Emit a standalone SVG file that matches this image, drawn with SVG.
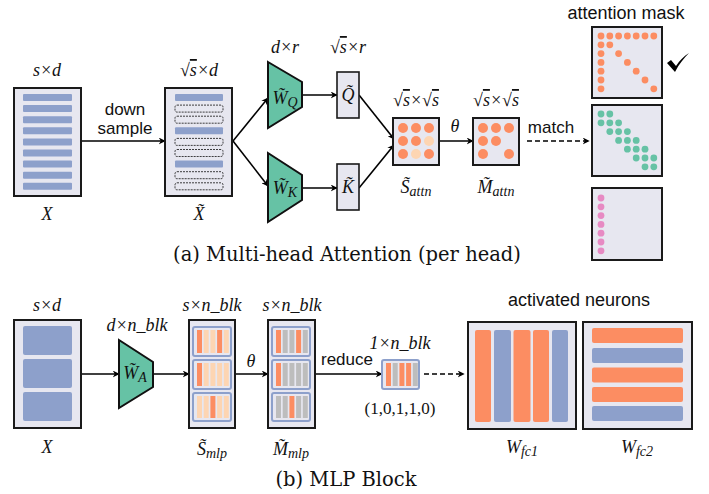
<svg xmlns="http://www.w3.org/2000/svg" width="709" height="494" viewBox="0 0 709 494">
<defs>
<marker id="ah" viewBox="0 0 10 10" refX="9" refY="5" markerWidth="7" markerHeight="7" orient="auto" markerUnits="userSpaceOnUse">
<path d="M0,0 L10,5 L0,10 L3,5 z" fill="#000"/>
</marker>
<style>
.box{fill:#e7e7f0;stroke:#1a1a1a;stroke-width:2}
.bar{fill:#8da0cb}
.dbar{fill:none;stroke:#111;stroke-width:0.8;stroke-dasharray:2 1}
.trap{fill:#66c2a5;stroke:#111;stroke-width:2}
.ln{stroke:#000;stroke-width:1.6;fill:none;marker-end:url(#ah)}
.dash{stroke:#000;stroke-width:1.6;fill:none;stroke-dasharray:5 3;marker-end:url(#ah)}
.m{font-family:"Liberation Serif","DejaVu Serif",serif;font-style:italic;font-size:18px;text-anchor:middle;fill:#111}
.sub{font-size:14px}
.s{font-family:"Liberation Sans",Arial,sans-serif;font-size:16px;text-anchor:middle;fill:#111}
.cap{font-family:"DejaVu Serif","Liberation Serif",serif;font-size:19.5px;text-anchor:middle;fill:#111}
.o{fill:#fc8d62}.lo{fill:#fdd5b2}.g{fill:#66c2a5}.p{fill:#e78ac3}.gr{fill:#bdbdbd}
.blk{fill:#e7e7f0;stroke:#8da0cb;stroke-width:2}
</style>
</defs>

<!-- connectors -->
<g id="connectors">
<line class="ln" x1="81" y1="141" x2="165" y2="141"/>
<line class="ln" x1="233" y1="141" x2="268" y2="98"/>
<line class="ln" x1="233" y1="141" x2="268" y2="186"/>
<line class="ln" x1="302" y1="95" x2="337" y2="95"/>
<line class="ln" x1="302" y1="188" x2="337" y2="188"/>
<line class="ln" x1="359" y1="95" x2="394" y2="139"/>
<line class="ln" x1="359" y1="188" x2="394" y2="145"/>
<line class="ln" x1="439" y1="141" x2="473" y2="141"/>
<line class="dash" x1="527" y1="141" x2="589" y2="141"/>
<line class="ln" x1="81" y1="374" x2="119" y2="374"/>
<line class="ln" x1="153" y1="374" x2="189" y2="374"/>
<line class="ln" x1="235" y1="374" x2="268" y2="374"/>
<line class="ln" x1="315" y1="374" x2="382" y2="374"/>
<line class="dash" x1="424" y1="374" x2="464" y2="374"/>
</g>

<!-- (a) -->
<g id="X_a">
<text class="m" x="47" y="76">s×d</text>
<rect class="box" x="14" y="88" width="67" height="108"/>
<g class="bar">
<rect x="23" y="94" width="49" height="7" rx="1"/>
<rect x="23" y="105.1" width="49" height="7" rx="1"/>
<rect x="23" y="116.2" width="49" height="7" rx="1"/>
<rect x="23" y="127.3" width="49" height="7" rx="1"/>
<rect x="23" y="138.4" width="49" height="7" rx="1"/>
<rect x="23" y="149.5" width="49" height="7" rx="1"/>
<rect x="23" y="160.6" width="49" height="7" rx="1"/>
<rect x="23" y="171.7" width="49" height="7" rx="1"/>
<rect x="23" y="182.8" width="49" height="7" rx="1"/>
</g>
<text class="m" x="47" y="220">X</text>
</g>

<g id="downsample_label">
<text class="s" x="125" y="115" style="font-size:17px">down</text>
<text class="s" x="125" y="134" style="font-size:17px">sample</text>
</g>

<g id="Xt">
<text class="m" x="199" y="76">√<tspan text-decoration="overline">s</tspan>×d</text>
<rect class="box" x="165" y="88" width="67" height="108"/>
<rect class="bar" x="175" y="94" width="48" height="7" rx="1"/>
<rect class="dbar" x="175" y="105.1" width="48" height="7" rx="2"/>
<rect class="dbar" x="175" y="116.2" width="48" height="7" rx="2"/>
<rect class="bar" x="175" y="127.3" width="48" height="7" rx="1"/>
<rect class="dbar" x="175" y="138.4" width="48" height="7" rx="2"/>
<rect class="dbar" x="175" y="149.5" width="48" height="7" rx="2"/>
<rect class="bar" x="175" y="160.6" width="48" height="7" rx="1"/>
<rect class="dbar" x="175" y="171.7" width="48" height="7" rx="2"/>
<rect class="dbar" x="175" y="182.8" width="48" height="7" rx="2"/>
<text class="m" x="199" y="220">X̃</text>
</g>

<g id="WQ">
<text class="m" x="285" y="53">d×r</text>
<polygon class="trap" points="268,62 302,82 302,107 268,128"/>
<text class="m" x="285" y="104">W̃<tspan class="sub" dy="3">Q</tspan></text>
</g>
<g id="WK">
<polygon class="trap" points="268,153 302,175 302,200 268,222"/>
<text class="m" x="285" y="194">W̃<tspan class="sub" dy="3">K</tspan></text>
</g>

<g id="Q">
<text class="m" x="348" y="53">√<tspan text-decoration="overline">s</tspan>×r</text>
<rect class="box" x="337" y="72" width="22" height="46" style="stroke-width:1.6"/>
<text class="m" x="348" y="101">Q̃</text>
</g>
<g id="K">
<rect class="box" x="337" y="164" width="22" height="46" style="stroke-width:1.6"/>
<text class="m" x="348" y="193">K̃</text>
</g>

<g id="S_attn">
<text class="m" x="416" y="106">√<tspan text-decoration="overline">s</tspan>×√<tspan text-decoration="overline">s</tspan></text>
<rect class="box" x="393" y="118" width="46" height="47"/>
<circle class="o" cx="403" cy="128" r="5"/><circle class="o" cx="416" cy="128" r="5"/><circle class="o" cx="429" cy="128" r="5"/>
<circle class="o" cx="403" cy="141" r="5"/><circle class="o" cx="416" cy="141" r="5"/><circle class="lo" cx="429" cy="141" r="5"/>
<circle class="o" cx="403" cy="154" r="5"/><circle class="lo" cx="416" cy="154" r="5"/><circle class="o" cx="429" cy="154" r="5"/>
<text class="m" x="416" y="193">S̃<tspan class="sub" dy="3">attn</tspan></text>
</g>

<text class="m" x="455" y="132">θ</text>

<g id="M_attn">
<text class="m" x="496" y="106">√<tspan text-decoration="overline">s</tspan>×√<tspan text-decoration="overline">s</tspan></text>
<rect class="box" x="473" y="118" width="46" height="47"/>
<circle class="o" cx="483" cy="128" r="5"/><circle class="o" cx="496" cy="128" r="5"/><circle class="o" cx="509" cy="128" r="5"/>
<circle class="o" cx="483" cy="141" r="5"/><circle class="o" cx="496" cy="141" r="5"/>
<circle class="o" cx="483" cy="154" r="5"/><circle class="o" cx="509" cy="154" r="5"/>
<text class="m" x="496" y="193">M̃<tspan class="sub" dy="3">attn</tspan></text>
</g>

<text class="s" x="551" y="133" style="font-size:17px">match</text>

<g id="masks">
<text class="s" x="626" y="19" style="font-size:18px">attention mask</text>
<g id="mask1">
<rect class="box" x="592" y="27" width="70" height="71"/>
<g class="o">
<circle cx="601" cy="36" r="3.4"/><circle cx="609.8" cy="36" r="3.4"/><circle cx="618.6" cy="36" r="3.4"/><circle cx="627.4" cy="36" r="3.4"/><circle cx="636.2" cy="36" r="3.4"/><circle cx="645" cy="36" r="3.4"/><circle cx="653.8" cy="36" r="3.4"/>
<circle cx="601" cy="44.8" r="3.4"/><circle cx="609.8" cy="44.8" r="3.4"/>
<circle cx="601" cy="53.6" r="3.4"/><circle cx="618.6" cy="53.6" r="3.4"/>
<circle cx="601" cy="62.4" r="3.4"/><circle cx="627.4" cy="62.4" r="3.4"/>
<circle cx="601" cy="71.2" r="3.4"/><circle cx="636.2" cy="71.2" r="3.4"/>
<circle cx="601" cy="80" r="3.4"/><circle cx="645" cy="80" r="3.4"/>
<circle cx="601" cy="88.8" r="3.4"/><circle cx="653.8" cy="88.8" r="3.4"/>
</g>
<path d="M667,63 L671,60 L676,66 C680,60 684,56 689,53 C684,58 679,64 675,72 Z" fill="#000"/>
</g>
<g id="mask2">
<rect class="box" x="592" y="105" width="70" height="71"/>
<g class="g">
<circle cx="601" cy="114" r="3.4"/><circle cx="609.8" cy="114" r="3.4"/>
<circle cx="601" cy="122.8" r="3.4"/><circle cx="609.8" cy="122.8" r="3.4"/><circle cx="618.6" cy="122.8" r="3.4"/>
<circle cx="609.8" cy="131.6" r="3.4"/><circle cx="618.6" cy="131.6" r="3.4"/><circle cx="627.4" cy="131.6" r="3.4"/>
<circle cx="618.6" cy="140.4" r="3.4"/><circle cx="627.4" cy="140.4" r="3.4"/><circle cx="636.2" cy="140.4" r="3.4"/>
<circle cx="627.4" cy="149.2" r="3.4"/><circle cx="636.2" cy="149.2" r="3.4"/><circle cx="645" cy="149.2" r="3.4"/>
<circle cx="636.2" cy="158" r="3.4"/><circle cx="645" cy="158" r="3.4"/><circle cx="653.8" cy="158" r="3.4"/>
<circle cx="645" cy="166.8" r="3.4"/><circle cx="653.8" cy="166.8" r="3.4"/>
</g>
</g>
<g id="mask3">
<rect class="box" x="592" y="188" width="70" height="72"/>
<g class="p">
<circle cx="601" cy="198" r="3.4"/><circle cx="601" cy="206.8" r="3.4"/><circle cx="601" cy="215.6" r="3.4"/><circle cx="601" cy="224.4" r="3.4"/><circle cx="601" cy="233.2" r="3.4"/><circle cx="601" cy="242" r="3.4"/><circle cx="601" cy="250.8" r="3.4"/>
</g>
</g>
</g>

<text class="cap" x="347" y="261">(a) Multi-head Attention (per head)</text>

<!-- (b) -->
<g id="X_b">
<text class="m" x="47" y="311">s×d</text>
<rect class="box" x="14" y="320" width="67" height="108"/>
<rect class="bar" x="23" y="326" width="49" height="29" rx="2"/>
<rect class="bar" x="23" y="359" width="49" height="29" rx="2"/>
<rect class="bar" x="23" y="392" width="49" height="29" rx="2"/>
<text class="m" x="47" y="453">X</text>
</g>

<g id="WA">
<text class="m" x="137" y="331">d×n_blk</text>
<polygon class="trap" points="119,340 153,362 153,387 119,408"/>
<text class="m" x="135" y="379">W̃<tspan class="sub" dy="3">A</tspan></text>
</g>

<g id="S_mlp">
<text class="m" x="212" y="311">s×n_blk</text>
<rect class="box" x="189" y="320" width="46" height="108"/>
<rect class="blk" x="193" y="327" width="38" height="29" rx="2"/>
<rect class="o" x="197" y="330" width="5" height="23"/><rect class="lo" x="203.7" y="330" width="5" height="23"/><rect class="lo" x="210.4" y="330" width="5" height="23"/><rect class="o" x="217.1" y="330" width="5" height="23"/><rect class="lo" x="223.8" y="330" width="5" height="23"/>
<rect class="blk" x="193" y="360" width="38" height="29" rx="2"/>
<rect class="o" x="197" y="363" width="5" height="23"/><rect class="lo" x="203.7" y="363" width="5" height="23"/><rect class="lo" x="210.4" y="363" width="5" height="23"/><rect class="lo" x="217.1" y="363" width="5" height="23"/><rect class="lo" x="223.8" y="363" width="5" height="23"/>
<rect class="blk" x="193" y="393" width="38" height="28" rx="2"/>
<rect class="lo" x="197" y="396" width="5" height="22"/><rect class="lo" x="203.7" y="396" width="5" height="22"/><rect class="o" x="210.4" y="396" width="5" height="22"/><rect class="lo" x="217.1" y="396" width="5" height="22"/><rect class="lo" x="223.8" y="396" width="5" height="22"/>
<text class="m" x="212" y="455">S̃<tspan class="sub" dy="3">mlp</tspan></text>
</g>

<text class="m" x="251" y="367">θ</text>

<g id="M_mlp">
<text class="m" x="292" y="311">s×n_blk</text>
<rect class="box" x="268" y="320" width="47" height="108"/>
<rect class="blk" x="272" y="327" width="38" height="29" rx="2"/>
<rect class="o" x="276" y="330" width="5" height="23"/><rect class="gr" x="282.7" y="330" width="5" height="23"/><rect class="gr" x="289.4" y="330" width="5" height="23"/><rect class="o" x="296.1" y="330" width="5" height="23"/><rect class="gr" x="302.8" y="330" width="5" height="23"/>
<rect class="blk" x="272" y="360" width="38" height="29" rx="2"/>
<rect class="o" x="276" y="363" width="5" height="23"/><rect class="gr" x="282.7" y="363" width="5" height="23"/><rect class="gr" x="289.4" y="363" width="5" height="23"/><rect class="gr" x="296.1" y="363" width="5" height="23"/><rect class="gr" x="302.8" y="363" width="5" height="23"/>
<rect class="blk" x="272" y="393" width="38" height="28" rx="2"/>
<rect class="gr" x="276" y="396" width="5" height="22"/><rect class="gr" x="282.7" y="396" width="5" height="22"/><rect class="o" x="289.4" y="396" width="5" height="22"/><rect class="gr" x="296.1" y="396" width="5" height="22"/><rect class="gr" x="302.8" y="396" width="5" height="22"/>
<text class="m" x="291" y="455">M̃<tspan class="sub" dy="3">mlp</tspan></text>
</g>

<text class="s" x="347" y="365" style="font-size:17px">reduce</text>

<g id="reduced">
<text class="m" x="400" y="349">1×n_blk</text>
<rect class="blk" x="382" y="360" width="37" height="29" rx="2"/>
<rect class="o" x="386" y="363" width="5" height="23"/><rect class="gr" x="392.7" y="363" width="5" height="23"/><rect class="o" x="399.4" y="363" width="5" height="23"/><rect class="o" x="406.1" y="363" width="5" height="23"/><rect class="gr" x="412.8" y="363" width="5" height="23"/>
<text x="400" y="414" style="font-size:17px;font-family:'Liberation Serif','DejaVu Serif',serif;text-anchor:middle;fill:#111">(1,0,1,1,0)</text>
</g>

<text class="s" x="579" y="306" style="font-size:18px">activated neurons</text>

<g id="Wfc1">
<rect class="box" x="468" y="322" width="108" height="107"/>
<rect class="o" x="475" y="330" width="16" height="92" rx="2"/>
<rect class="bar" x="494" y="330" width="17" height="92" rx="2"/>
<rect class="o" x="513.5" y="330" width="17" height="92" rx="2"/>
<rect class="o" x="533" y="330" width="16" height="92" rx="2"/>
<rect class="bar" x="552" y="330" width="16" height="92" rx="2"/>
<text class="m" x="522" y="453">W<tspan class="sub" dy="3">fc1</tspan></text>
</g>

<g id="Wfc2">
<rect class="box" x="583" y="322" width="109" height="107"/>
<rect class="o" x="592" y="328" width="91" height="15" rx="2"/>
<rect class="bar" x="592" y="348" width="91" height="15" rx="2"/>
<rect class="o" x="592" y="367.5" width="91" height="15" rx="2"/>
<rect class="o" x="592" y="387" width="91" height="15" rx="2"/>
<rect class="bar" x="592" y="406" width="91" height="15" rx="2"/>
<text class="m" x="637" y="453">W<tspan class="sub" dy="3">fc2</tspan></text>
</g>

<text class="cap" x="346" y="486">(b) MLP Block</text>
</svg>
